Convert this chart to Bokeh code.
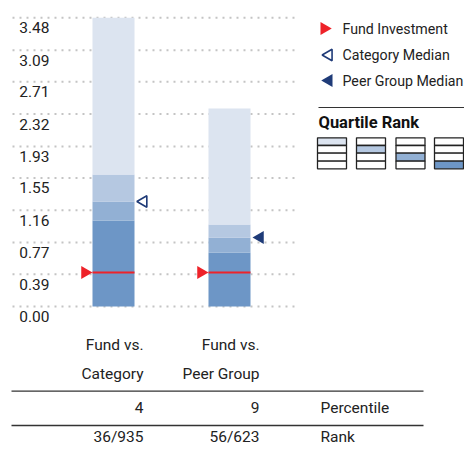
import numpy as np
from bokeh.plotting import figure
from bokeh.models import Range1d
from bokeh.core.properties import value
from bokeh.embed import file_html
from bokeh.resources import INLINE

# ---------------- data ----------------
cat_line1 = ["Fund vs.", "Fund vs."]
cat_line2 = ["Category", "Peer Group"]
band_bottom = [0.0, 0.0]
q1_top = [1.037, 0.651]   # darkest band top
q2_top = [1.266, 0.832]
q3_top = [1.591, 0.988]
q4_top = [3.48, 2.387]
fund_value = [0.41, 0.41]
category_median = [1.266]
peer_median = [0.832]
y_ticks = [0.00, 0.39, 0.77, 1.16, 1.55, 1.93, 2.32, 2.71, 3.09, 3.48]
y_tick_labels = ["0.00", "0.39", "0.77", "1.16", "1.55", "1.93", "2.32", "2.71", "3.09", "3.48"]
percentile = ["4", "9"]
rank = ["36/935", "56/623"]
row_labels = ["Percentile", "Rank"]
legend_labels = ["Fund Investment", "Category Median", "Peer Group Median"]

# ---------------- styling ----------------
FONT = "Roboto"
FS = "15.5px"
TXT = "#222222"
BANDS = ["#6d96c6", "#92b0d4", "#b5c8e1", "#dce4f0"]
RED = "#ee2229"
NAVY = "#1f3b78"
GRID = "#c4c4c4"

W, H = 464, 445
PXU = 82.96      # pixels per value unit
Y0 = 306         # pixel row of value 0
XU = 116.0       # pixels between categories
X0 = 113.0       # pixel column of first category
BW = 42.0        # bar width in px

p = figure(width=W, height=H, output_backend="svg", toolbar_location=None,
           x_axis_location=None, y_axis_location=None, min_border=0,
           x_range=Range1d(-X0 / XU, (W - X0) / XU),
           y_range=Range1d(-(H - Y0) / PXU, Y0 / PXU))
p.extra_x_ranges = {"px": Range1d(0, W)}
p.extra_y_ranges = {"px": Range1d(H, 0)}
p.outline_line_color = None
p.grid.visible = False
p.background_fill_color = "white"
p.border_fill_color = "white"

idx = np.arange(len(cat_line1), dtype=float)

def txt(x, y, t, align="left", **kw):
    p.text(x=x, y=y, text=t, x_range_name="px", y_range_name=kw.pop("yr", "px"),
           text_align=align, text_baseline="middle", text_font=value(FONT),
           text_font_size=kw.pop("size", FS), text_color=kw.pop("color", TXT), **kw)

# gridlines
p.segment(x0=[12] * len(y_ticks), x1=[294] * len(y_ticks), y0=y_ticks, y1=y_ticks,
          x_range_name="px", line_color=GRID, line_width=2, line_dash="2 5")
txt([49] * len(y_ticks), y_ticks, y_tick_labels, "right", yr="default", y_offset=10)

# quartile bands
bottoms = [band_bottom, q1_top, q2_top, q3_top]
tops = [q1_top, q2_top, q3_top, q4_top]
for b, t, c in zip(bottoms, tops, BANDS):
    p.vbar(x=idx, width=BW / XU, bottom=b, top=t, fill_color=c, line_color=None)

# fund line & markers
hw = BW / 2 / XU
p.segment(x0=idx - hw, x1=idx + hw, y0=fund_value, y1=fund_value,
          line_color=RED, line_width=2)
TS = 13
tip = 2 * TS * np.sqrt(3) / 2 / 3 / XU
p.scatter(x=idx - hw - tip, y=fund_value, marker="triangle", size=TS,
          angle=-np.pi / 2, fill_color=RED, line_color=None)
p.scatter(x=[idx[0] + hw + tip + 1.5 / XU], y=category_median, marker="triangle",
          size=TS - 1.5, angle=np.pi / 2, fill_color="white", line_color=NAVY,
          line_width=1.6)
p.scatter(x=[idx[1] + hw + tip + 2 / XU], y=peer_median, marker="triangle",
          size=TS, angle=np.pi / 2, fill_color=NAVY, line_color=None)

# legend
ly = [28, 54.5, 80]
tsx = TS * np.sqrt(3) / 2 / 3
p.scatter(x=[320 + tsx], y=[ly[0]], x_range_name="px", y_range_name="px",
          marker="triangle", size=TS, angle=-np.pi / 2, fill_color=RED, line_color=None)
p.scatter(x=[332 - tsx], y=[ly[1]], x_range_name="px", y_range_name="px",
          marker="triangle", size=TS - 1.5, angle=np.pi / 2, fill_color="white",
          line_color=NAVY, line_width=1.6)
p.scatter(x=[332 - tsx], y=[ly[2]], x_range_name="px", y_range_name="px",
          marker="triangle", size=TS, angle=np.pi / 2, fill_color=NAVY, line_color=None)
txt([342] * 3, ly, legend_labels, size="14.2px")
p.segment(x0=[318], x1=[W], y0=[107], y1=[107], x_range_name="px", y_range_name="px",
          line_color="#333333", line_width=1.2)
txt([318], [122], ["Quartile Rank"], text_font_style="bold", color="#111111", size="16.5px")

# quartile rank icons
box_left = [317, 356, 395.5, 434]
row_edges = [137.3, 145, 152.7, 160.7, 168.3]
ql, qr, qt, qb, qc = [], [], [], [], []
for i, bl in enumerate(box_left):
    for r in range(4):
        ql.append(bl); qr.append(bl + 29)
        qt.append(row_edges[r]); qb.append(row_edges[r + 1])
        qc.append(BANDS[3 - i] if r == i else "white")
p.quad(left=ql, right=qr, top=qt, bottom=qb, fill_color=qc, line_color="#222222",
       line_width=1.3, x_range_name="px", y_range_name="px")

# table
col_right = [143, 259]
txt(col_right, [344, 344], cat_line1, "right")
txt(col_right, [373, 373], cat_line2, "right")
p.segment(x0=[11, 11], x1=[423, 423], y0=[390.7, 425], y1=[390.7, 425],
          x_range_name="px", y_range_name="px", line_color="#333333", line_width=1.3)
txt(col_right, [407, 407], percentile, "right")
txt(col_right, [436, 436], rank, "right")
txt([320, 320], [407, 436], row_labels)

open("out.html", "w").write(file_html(p, INLINE))
